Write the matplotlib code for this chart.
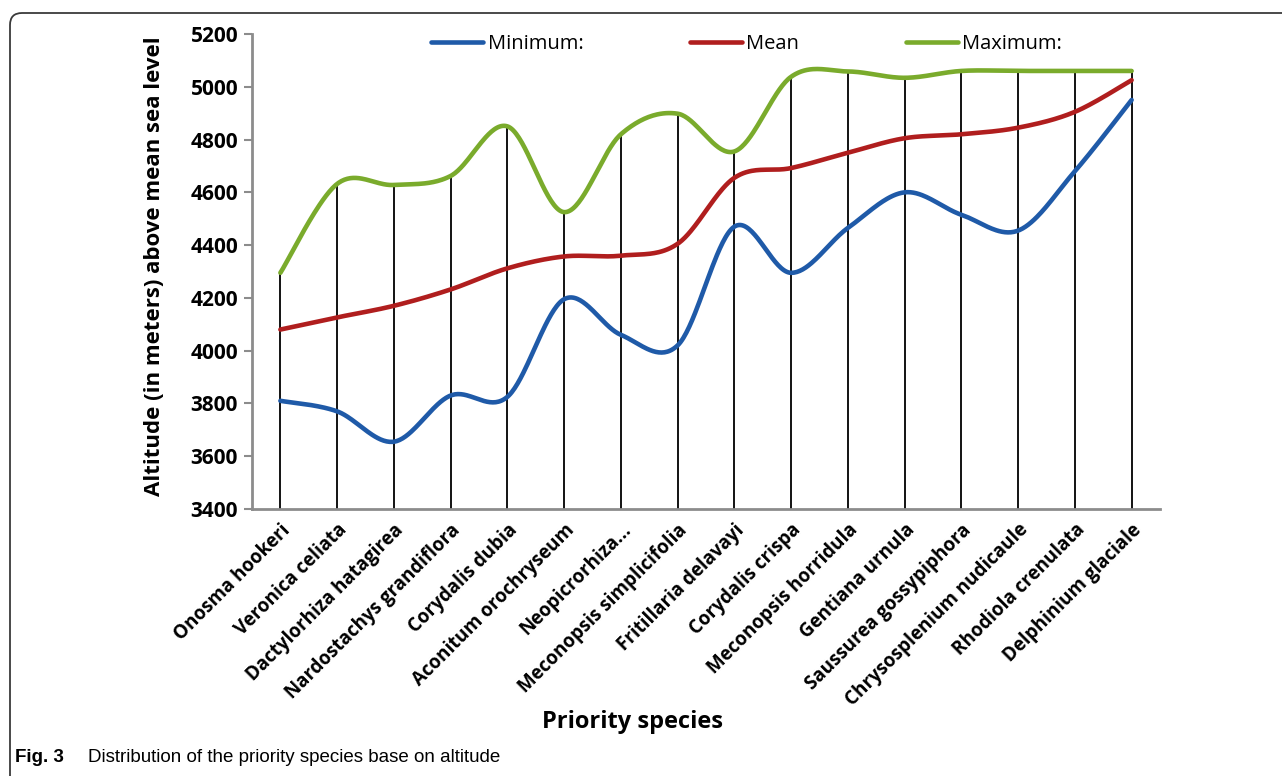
import numpy as np
import matplotlib
matplotlib.use("Agg")
import matplotlib.pyplot as plt
from matplotlib.patches import FancyBboxPatch
from matplotlib.transforms import IdentityTransform

species = ["Onosma hookeri", "Veronica celiata", "Dactylorhiza hatagirea",
           "Nardostachys grandiflora", "Corydalis dubia", "Aconitum orochryseum",
           "Neopicrorhiza...", "Meconopsis simplicifolia", "Fritillaria delavayi",
           "Corydalis crispa", "Meconopsis horridula", "Gentiana urnula",
           "Saussurea gossypiphora", "Chrysosplenium nudicaule", "Rhodiola crenulata",
           "Delphinium glaciale"]
minimum = [3810, 3770, 3655, 3830, 3825, 4195, 4060, 4020, 4470, 4295, 4465, 4600,
           4515, 4455, 4680, 4950]
mean = [4080, 4126, 4170, 4232, 4312, 4357, 4360, 4405, 4655, 4692, 4750, 4805,
        4820, 4845, 4905, 5025]
maximum = [4295, 4632, 4628, 4662, 4850, 4525, 4820, 4898, 4755, 5038, 5058, 5034,
           5060, 5060, 5060, 5060]
yticks = [3400, 3600, 3800, 4000, 4200, 4400, 4600, 4800, 5000, 5200]

C_MIN = "#1f5aa8"
C_MEAN = "#b01e1e"
C_MAX = "#7aab2c"
FONT = "Open Sans"


def smooth(xs, ys, n=40):
    xs = np.asarray(xs, float)
    ys = np.asarray(ys, float)
    out_x, out_y = [], []
    m = len(xs)
    t = np.linspace(0, 1, n)
    for i in range(m - 1):
        i0 = max(i - 1, 0)
        i3 = min(i + 2, m - 1)
        pts = []
        for arr in (xs, ys):
            p1, p2 = arr[i], arr[i + 1]
            c1 = p1 + (p2 - arr[i0]) / 6.0
            c2 = p2 - (arr[i3] - p1) / 6.0
            pts.append((1 - t) ** 3 * p1 + 3 * (1 - t) ** 2 * t * c1
                       + 3 * (1 - t) * t ** 2 * c2 + t ** 3 * p2)
        out_x.append(pts[0] if i == 0 else pts[0][1:])
        out_y.append(pts[1] if i == 0 else pts[1][1:])
    return np.concatenate(out_x), np.concatenate(out_y)


W, H = 1282, 776
fig = plt.figure(figsize=(W / 100, H / 100), dpi=100)

frame = FancyBboxPatch((10, -40), 1320, 803, boxstyle="round,pad=0,rounding_size=12",
                       transform=IdentityTransform(), facecolor="none",
                       edgecolor="#3a3a3a", linewidth=1.3)
fig.patches.append(frame)

ax = fig.add_axes([252 / W, 1 - 509 / H, (1160 - 252) / W, (509 - 34) / H])
x = np.arange(len(species))

ax.vlines(x, yticks[0], maximum, color="black", linewidth=1.3, zorder=1)
for vals, col, lab in ((minimum, C_MIN, "Minimum:"), (mean, C_MEAN, "Mean"),
                       (maximum, C_MAX, "Maximum:")):
    sx, sy = smooth(x, vals)
    ax.plot(sx, sy, color=col, linewidth=3.3, solid_capstyle="round", zorder=3, label=lab)

ax.set_xlim(-0.5, len(species) - 0.5)
ax.set_ylim(yticks[0], yticks[-1])
ax.set_yticks(yticks)
ax.set_yticklabels([str(v) for v in yticks], fontsize=15, fontweight="bold", family=FONT)
ax.set_xticks(x)
ax.set_xticklabels(species, rotation=45, ha="right", va="top", rotation_mode="anchor",
                   fontsize=13.5, fontweight="bold", family=FONT)
ax.tick_params(axis="x", length=0, pad=8)
ax.tick_params(axis="y", length=6, width=1.5, color="#8c8c8c", pad=4)
for s in ("top", "right"):
    ax.spines[s].set_visible(False)
for s in ("left", "bottom"):
    ax.spines[s].set_color("#8c8c8c")
    ax.spines[s].set_linewidth(2)

fig.text(155 / W, 1 - 266 / H, "Altitude (in meters) above mean sea level", rotation=90,
         ha="center", va="center", fontsize=16, fontweight="bold", family=FONT)
fig.text(632 / W, 1 - 722 / H, "Priority species", ha="center", va="center",
         fontsize=17, fontweight="bold", family=FONT)

leg = ax.legend(loc="upper left", bbox_to_anchor=(413 / W, 1 - 16 / H),
                bbox_transform=fig.transFigure, ncol=3, frameon=False,
                handlelength=2.6, handletextpad=0.2, columnspacing=5.3,
                prop={"family": FONT, "size": 14.5})

fig.text(15 / W, 1 - 757 / H, "Fig. 3", ha="left", va="center", fontsize=13.5,
         fontweight="bold", family="Liberation Sans")
fig.text(88 / W, 1 - 757 / H, "Distribution of the priority species base on altitude",
         ha="left", va="center", fontsize=13.5, family="Liberation Sans")

fig.savefig("out.png", dpi=100)
